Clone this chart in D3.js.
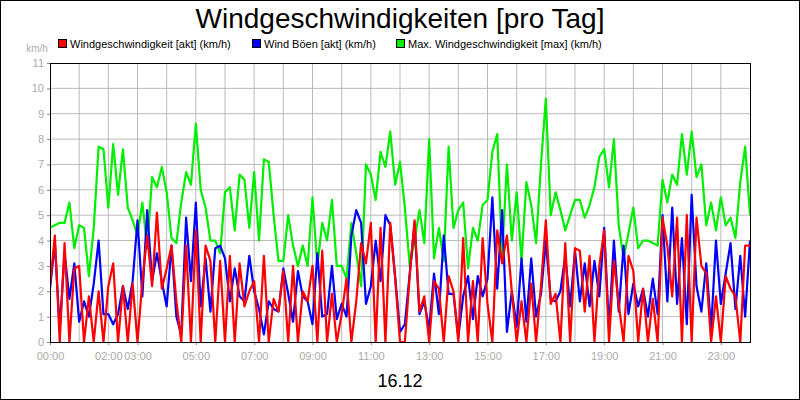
<!DOCTYPE html>
<html><head><meta charset="utf-8">
<script src="https://cdn.jsdelivr.net/npm/d3@7"></script>
<style>body{margin:0;background:#fff}svg{display:block}</style>
</head><body><svg id="c" width="800" height="400"></svg>
<script>
const yTicks=[0,1,2,3,4,5,6,7,8,9,10,11];
const xTickHours=[0,2,3,5,7,9,11,13,15,17,19,21,23];
const xTickLabels=["00:00","02:00","03:00","05:00","07:00","09:00","11:00","13:00","15:00","17:00","19:00","21:00","23:00"];
const maxSpeed=[4.5,4.6,4.7,4.7,5.5,3.7, 4.6,4.5,2.6,4.5,7.7,7.6, 5.3,7.8,5.8,7.6,5.3,4.8, 4.2,5.5,3.7,6.5,6.1,6.9, 5.9,4.1,3.9,5.5,6.7,6.2, 8.6,6.0,5.3,4.0,4.0,3.5,
5.9,6.1,4.4,6.6,6.4,4.5, 6.7,4.0,7.2,7.1,5.0,3.2, 3.2,5.0,3.8,3.0,3.8,3.0, 5.7,3.0,4.7,4.0,5.6,3.0, 3.0,2.5,4.7,3.5,2.2,7.0, 6.6,5.6,7.5,6.9,8.3,6.2,
7.1,5.3,3.0,4.0,5.2,3.9, 8.0,3.3,4.5,3.2,7.7,4.5, 5.2,5.5,2.9,4.5,4.0,5.4, 5.6,7.5,8.2,3.4,7.0,4.0, 5.9,3.2,6.3,5.4,3.9,7.0, 9.6,5.0,5.9,5.2,4.4,5.0,
5.6,5.6,4.9,5.4,6.1,7.3, 7.6,6.1,8.0,4.6,3.3,4.3, 5.3,3.7,4.0,4.0,3.9,3.8, 6.4,5.5,6.6,6.2,8.2,6.6, 8.3,6.5,7.0,4.6,5.5,4.4, 5.7,4.6,4.9,4.1,6.3,7.7, 5.0];
const gust=[2.1,3.9,0.5,3.5,1.7,3.1, 0.8,1.6,1.0,2.3,4.0,1.1, 1.1,0.7,1.1,2.2,1.3,2.4, 4.8,1.8,5.2,2.4,3.5,2.4, 1.4,3.8,1.0,0.3,4.9,2.4, 5.5,1.4,3.3,1.2,3.7,3.8,
3.3,1.6,2.9,1.8,1.6,3.4, 2.0,1.3,0.3,1.6,1.3,1.2, 2.9,1.9,0.8,2.8,1.8,1.6, 0.7,3.5,1.0,1.1,3.0,0.9, 1.5,1.0,4.2,5.2,4.7,1.5, 2.2,4.0,2.4,5.0,4.6,2.6,
0.4,0.7,2.7,4.7,1.1,1.6, 0.5,2.7,1.1,4.2,1.9,1.9, 0.2,1.8,2.6,0.9,2.6,1.8, 2.5,5.7,2.1,5.2,0.4,2.0, 0.6,3.3,0.8,3.3,1.0,1.9, 4.0,1.7,1.6,2.0,3.4,1.4,
3.6,1.6,3.1,1.4,3.2,1.8, 4.5,0.5,4.0,1.2,3.8,1.1, 2.3,1.4,2.1,1.0,2.5,1.1, 5.0,1.6,5.3,1.5,4.1,0.7, 5.8,2.2,1.2,3.1,0.5,4.0, 1.5,2.7,3.9,1.3,3.4,1.0, 4.0];
const speed=[2.2,4.2,0,3.9,0,2.9, 3.0,0,1.8,0,2.0,0, 2.2,3.1,0,2.2,0,2.3, 0,2.4,4.2,2.2,5.1,2.1, 2.9,3.8,1.6,0,3.8,0, 4.4,0,3.8,3.2,0,3.2,
0,3.4,0,3.1,1.4,2.0, 2.4,0,3.4,0,1.7,1.2, 2.8,0,3.0,0,2.0,1.6, 3.0,0,3.6,0,1.9,0, 1.1,2.5,0,1.6,3.9,3.1, 4.7,0,4.5,0,4.7,2.5,
0,0,2.6,4.8,1.2,1.8, 0,2.4,2.1,0,2.6,2.0, 0,4.1,0,2.4,0,4.1, 1.5,0,4.4,3.1,4.2,2.0, 0,1.6,0,2.3,0,2.2, 4.8,1.5,1.9,0,3.9,0,
3.7,3.6,1.2,3.4,0,3.0, 4.4,0,3.2,1.5,0,3.4, 2.8,0,2.1,0,1.7,0, 4.9,3.8,1.8,4.9,0,5.0, 0,4.9,3.0,2.7,0,1.8, 0,2.6,2.1,1.8,0,3.8, 3.8];
const legend=[["Windgeschwindigkeit [akt] (km/h)","#ff0000"],["Wind Böen [akt] (km/h)","#0000ff"],["Max. Windgeschwindigkeit [max] (km/h)","#00ee00"]];

const svg=d3.select("#c"), F="Liberation Sans, Arial, sans-serif";
svg.append("rect").attr("x",0.5).attr("y",0.5).attr("width",799).attr("height",399).attr("fill","#fff").attr("stroke","#000");
const L=50,R=750,T=63,B=342;
const x=d3.scaleLinear().domain([0,24]).range([L,R]);
const y=d3.scaleLinear().domain([0,11]).range([B,T]);
const g=svg.append("g");
g.selectAll(".gx").data(d3.range(1,24)).join("line").attr("x1",d=>x(d)).attr("x2",d=>x(d)).attr("y1",T).attr("y2",B).attr("stroke","#bbb");
g.selectAll(".gy").data(yTicks.slice(1,-1)).join("line").attr("x1",L).attr("x2",R).attr("y1",d=>y(d)).attr("y2",d=>y(d)).attr("stroke","#bbb");
const ax=svg.append("g").attr("transform",`translate(0,${B})`).call(d3.axisBottom(x).tickValues(xTickHours).tickFormat((d,i)=>xTickLabels[i]).tickSize(3));
ax.select(".domain").remove();
ax.selectAll("line").attr("stroke","#888");
ax.selectAll("text").attr("fill","#aaa").attr("font-family",F).attr("font-size",11).attr("dy","1.1em");
const ay=svg.append("g").attr("transform",`translate(${L},0)`).call(d3.axisLeft(y).tickValues(yTicks).tickSize(3));
ay.select(".domain").remove();
ay.selectAll("line").attr("stroke","#888");
ay.selectAll("text").attr("fill","#aaa").attr("font-family",F).attr("font-size",11);
const line=d3.line().x((d,i)=>x(i/6)).y(d=>y(d));
const clip=svg.append("clipPath").attr("id","cl").append("rect").attr("x",L).attr("y",T).attr("width",R-L).attr("height",B-T);
[[maxSpeed,"#00ee00"],[gust,"#0000ff"],[speed,"#ff0000"]].forEach(([d,c])=>{
 svg.append("path").datum(d).attr("d",line).attr("fill","none").attr("stroke",c).attr("stroke-width",2.2).attr("stroke-linejoin","round").attr("clip-path","url(#cl)");
});
svg.append("rect").attr("x",L+0.5).attr("y",T+0.5).attr("width",R-L).attr("height",B-T).attr("fill","none").attr("stroke","#000");
svg.append("text").attr("x",400).attr("y",28).attr("text-anchor","middle").attr("font-family",F).attr("font-size",28).text("Windgeschwindigkeiten [pro Tag]");
svg.append("text").attr("x",400).attr("y",387).attr("text-anchor","middle").attr("font-family",F).attr("font-size",18).text("16.12");
svg.append("text").attr("x",37).attr("y",52).attr("text-anchor","middle").attr("fill","#aaa").attr("font-family",F).attr("font-size",10).text("km/h");
const lx=[58,252,396];
legend.forEach(([t,c],i)=>{
 svg.append("rect").attr("x",lx[i]+0.5).attr("y",39.5).attr("width",8).attr("height",8).attr("fill",c).attr("stroke","#000");
 svg.append("text").attr("x",lx[i]+12).attr("y",48).attr("font-family",F).attr("font-size",11).text(t);
});
</script></body></html>
